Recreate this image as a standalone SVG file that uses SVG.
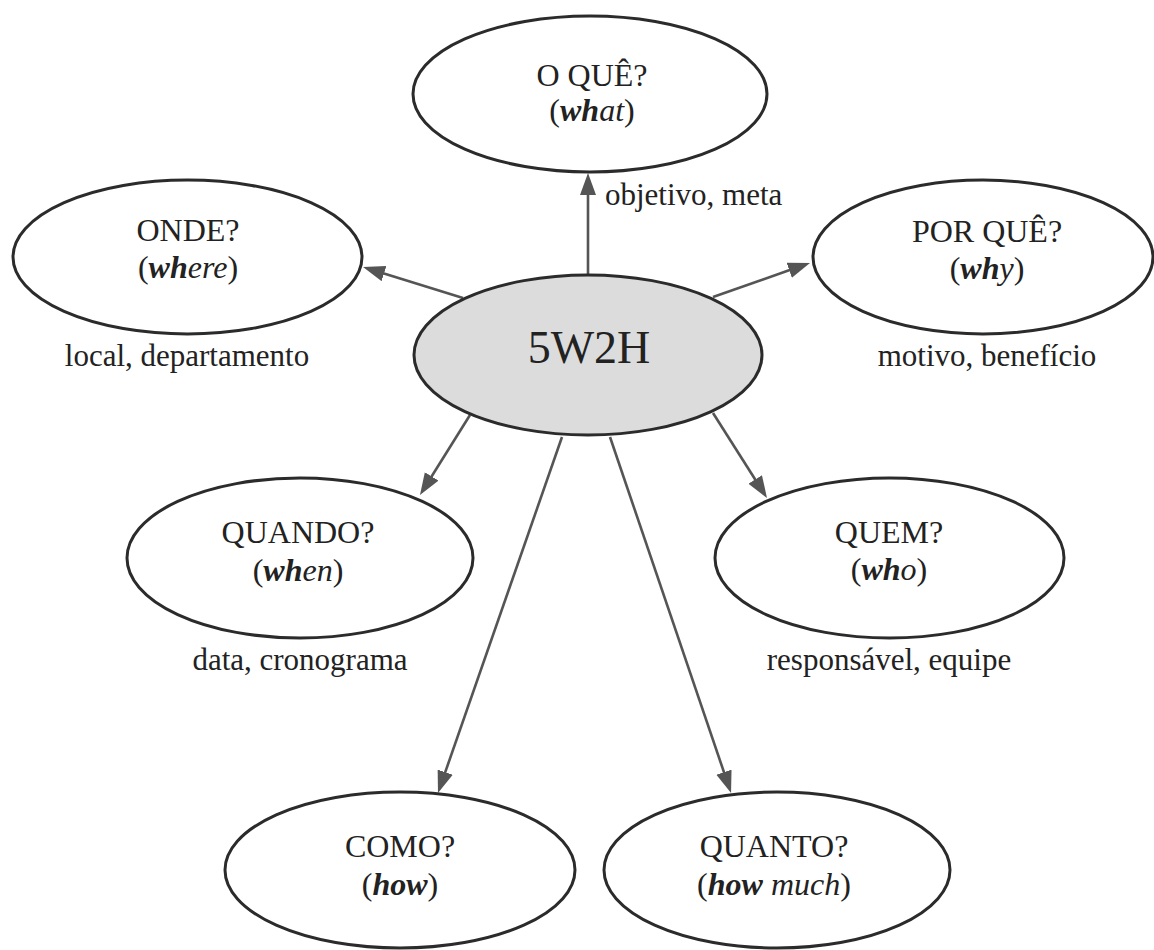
<svg xmlns="http://www.w3.org/2000/svg" width="1154" height="950" viewBox="0 0 1154 950">
<defs>
<marker id="ah" markerUnits="userSpaceOnUse" markerWidth="24" markerHeight="18" refX="11" refY="8" orient="auto">
<path d="M0,0 L22,8 L0,16 z" fill="#555"/>
</marker>
<style>
.n{fill:#fff;stroke:#2b2b2b;stroke-width:3}
.c{fill:#dcdcdc;stroke:#2b2b2b;stroke-width:3}
.t{font-family:"Liberation Serif",serif;font-size:32px;fill:#222;text-anchor:middle}
.big{font-size:46px}
.lbl{font-family:"Liberation Serif",serif;font-size:31px;fill:#222;text-anchor:middle}
.st{text-anchor:start}
.e{font-style:italic}
.b{font-weight:bold}
.a{stroke:#555;stroke-width:2.6;fill:none;marker-end:url(#ah)}
</style>
</defs>
<rect width="1154" height="950" fill="#fff"/>
<g id="connectors">
<line class="a" x1="588" y1="275" x2="588" y2="184"/>
<line class="a" x1="463" y1="298" x2="373.5" y2="270.3"/>
<line class="a" x1="713" y1="297" x2="799.6" y2="266.6"/>
<line class="a" x1="470" y1="415" x2="425.8" y2="485.7"/>
<line class="a" x1="713" y1="413" x2="761.1" y2="488.7"/>
<line class="a" x1="562" y1="437" x2="441.6" y2="782.6"/>
<line class="a" x1="610" y1="437" x2="727.5" y2="782.6"/>
</g>
<g id="center">
<ellipse class="c" cx="588" cy="355" rx="174" ry="80"/>
<text class="t big" x="589" y="363">5W2H</text>
</g>
<g id="oque">
<ellipse class="n" cx="590" cy="94" rx="177" ry="78"/>
<text class="t" x="592" y="86">O QUÊ?</text>
<text class="t" x="592" y="121">(<tspan class="e b">wh</tspan><tspan class="e">at</tspan>)</text>
<text class="lbl st" x="605" y="205">objetivo, meta</text>
</g>
<g id="onde">
<ellipse class="n" cx="187.5" cy="257" rx="174.5" ry="77"/>
<text class="t" x="188" y="241">ONDE?</text>
<text class="t" x="188" y="278">(<tspan class="e b">wh</tspan><tspan class="e">ere</tspan>)</text>
<text class="lbl" x="187" y="366">local, departamento</text>
</g>
<g id="porque">
<ellipse class="n" cx="983" cy="257" rx="170" ry="77"/>
<text class="t" x="987" y="242">POR QUÊ?</text>
<text class="t" x="987" y="279">(<tspan class="e b">wh</tspan><tspan class="e">y</tspan>)</text>
<text class="lbl" x="987" y="366">motivo, benefício</text>
</g>
<g id="quando">
<ellipse class="n" cx="300" cy="558" rx="173" ry="80"/>
<text class="t" x="298" y="543">QUANDO?</text>
<text class="t" x="298" y="581">(<tspan class="e b">wh</tspan><tspan class="e">en</tspan>)</text>
<text class="lbl" x="300" y="670">data, cronograma</text>
</g>
<g id="quem">
<ellipse class="n" cx="889.5" cy="558" rx="174.5" ry="80"/>
<text class="t" x="889" y="543">QUEM?</text>
<text class="t" x="889" y="580">(<tspan class="e b">wh</tspan><tspan class="e">o</tspan>)</text>
<text class="lbl" x="889" y="670">responsável, equipe</text>
</g>
<g id="como">
<ellipse class="n" cx="400" cy="870" rx="175" ry="78"/>
<text class="t" x="400" y="857">COMO?</text>
<text class="t" x="400" y="895">(<tspan class="e b">how</tspan>)</text>
</g>
<g id="quanto">
<ellipse class="n" cx="777" cy="870" rx="173" ry="78"/>
<text class="t" x="774" y="857">QUANTO?</text>
<text class="t" x="774" y="895">(<tspan class="e b">how</tspan> <tspan class="e">much</tspan>)</text>
</g>
</svg>
